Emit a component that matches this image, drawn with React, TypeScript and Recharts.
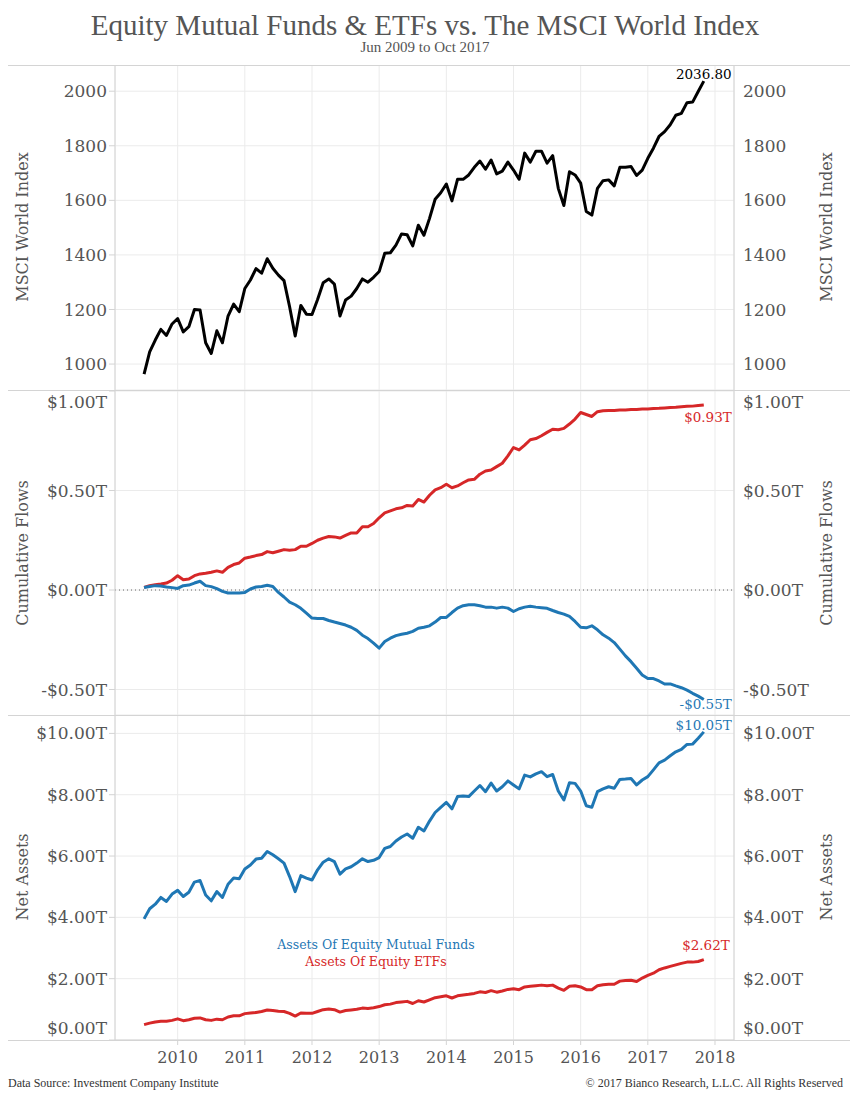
import React from "react";
import { LineChart, Line, XAxis, YAxis, CartesianGrid, ReferenceLine } from "recharts";

// monthly, Jun 2009 .. Oct 2017 (month-end)
const START_YEAR = 2009;
const START_MONTH = 6;

const msci = [
  963, 1045, 1088, 1127, 1105, 1147, 1167, 1118, 1137, 1200,
  1198, 1078, 1039, 1122, 1078, 1176, 1220, 1192, 1277, 1308,
  1350, 1333, 1386, 1351, 1326, 1306, 1210, 1103, 1215, 1183,
  1182, 1237, 1298, 1312, 1293, 1176, 1235, 1249, 1277, 1312,
  1300, 1318, 1339, 1406, 1408, 1436, 1477, 1474, 1433, 1509,
  1472, 1534, 1604, 1628, 1660, 1598, 1677, 1677, 1693, 1721,
  1744, 1714, 1748, 1697, 1707, 1740, 1711, 1677, 1773, 1740,
  1780, 1780, 1736, 1764, 1644, 1581, 1705, 1693, 1663, 1559,
  1546, 1644, 1672, 1675, 1653, 1721, 1721, 1724, 1691, 1711,
  1754, 1791, 1834, 1852, 1877, 1912, 1919, 1958, 1960, 1999,
  2036.8,
];

const etfFlows = [
  0.013, 0.022, 0.027, 0.03, 0.035, 0.049, 0.072, 0.052, 0.055, 0.072,
  0.081, 0.084, 0.089, 0.096, 0.089, 0.114, 0.128, 0.136, 0.16, 0.166,
  0.173, 0.178, 0.193, 0.187, 0.195, 0.203, 0.2, 0.203, 0.22, 0.22,
  0.234, 0.25, 0.261, 0.269, 0.267, 0.261, 0.274, 0.287, 0.287, 0.318,
  0.318, 0.334, 0.363, 0.388, 0.398, 0.408, 0.413, 0.425, 0.422, 0.455,
  0.442, 0.476, 0.503, 0.514, 0.531, 0.514, 0.523, 0.539, 0.553, 0.556,
  0.582, 0.598, 0.603, 0.62, 0.637, 0.674, 0.716, 0.704, 0.728, 0.755,
  0.761, 0.775, 0.792, 0.808, 0.805, 0.812, 0.834, 0.859, 0.892, 0.882,
  0.872, 0.896, 0.901, 0.902, 0.902, 0.904, 0.905, 0.907, 0.907, 0.909,
  0.91, 0.912, 0.913, 0.915, 0.917, 0.918, 0.921, 0.923, 0.924, 0.927,
  0.93,
];

const mfFlows = [
  0.013, 0.018, 0.022, 0.02, 0.015, 0.012, 0.008, 0.022, 0.025, 0.035,
  0.044, 0.022, 0.017, 0.007, -0.007, -0.015, -0.015, -0.015, -0.012, 0.005,
  0.015, 0.018, 0.024, 0.018, -0.012, -0.035, -0.061, -0.074, -0.092, -0.116,
  -0.141, -0.143, -0.143, -0.153, -0.161, -0.168, -0.176, -0.187, -0.203, -0.227,
  -0.244, -0.267, -0.292, -0.259, -0.242, -0.229, -0.222, -0.217, -0.208, -0.192,
  -0.187, -0.18, -0.161, -0.138, -0.138, -0.113, -0.091, -0.079, -0.074, -0.074,
  -0.079, -0.086, -0.086, -0.091, -0.086, -0.091, -0.108, -0.094, -0.086, -0.082,
  -0.086, -0.089, -0.092, -0.103, -0.113, -0.121, -0.133, -0.158, -0.187, -0.19,
  -0.18, -0.2, -0.225, -0.242, -0.264, -0.297, -0.331, -0.36, -0.393, -0.427,
  -0.445, -0.445, -0.457, -0.472, -0.472, -0.482, -0.491, -0.503, -0.519, -0.533,
  -0.55,
];

const mfAssets = [
  3.95, 4.28, 4.43, 4.65, 4.52, 4.76, 4.88, 4.68, 4.82, 5.15,
  5.2, 4.73, 4.54, 4.84, 4.65, 5.08, 5.28, 5.26, 5.58, 5.71,
  5.9, 5.93, 6.15, 6.04, 5.91, 5.77, 5.33, 4.84, 5.36, 5.28,
  5.22, 5.55, 5.8, 5.91, 5.82, 5.41, 5.58, 5.65, 5.77, 5.91,
  5.82, 5.86, 5.95, 6.25, 6.31, 6.49, 6.62, 6.72, 6.58, 6.94,
  6.82, 7.14, 7.42, 7.59, 7.75, 7.54, 7.94, 7.96, 7.94, 8.12,
  8.3, 8.1, 8.38, 8.12, 8.26, 8.45, 8.32, 8.19, 8.64, 8.58,
  8.68, 8.75, 8.59, 8.66, 8.12, 7.83, 8.39, 8.37, 8.12, 7.64,
  7.59, 8.1, 8.19, 8.26, 8.21, 8.5, 8.51, 8.53, 8.32, 8.48,
  8.59, 8.81, 9.04, 9.13, 9.27, 9.4, 9.48, 9.64, 9.65, 9.84,
  10.05,
];

const etfAssets = [
  0.5, 0.55, 0.59, 0.61, 0.61, 0.64, 0.69, 0.63, 0.66, 0.71,
  0.72, 0.66, 0.64, 0.68, 0.66, 0.75, 0.79, 0.79, 0.86, 0.88,
  0.9, 0.93, 0.98, 0.96, 0.94, 0.93, 0.87, 0.78, 0.88, 0.87,
  0.87, 0.93, 0.99, 1.01, 0.99, 0.91, 0.96, 0.98, 1.0, 1.04,
  1.03, 1.05, 1.09, 1.15, 1.17, 1.22, 1.24, 1.26, 1.19, 1.28,
  1.24, 1.31, 1.38, 1.41, 1.44, 1.37, 1.44, 1.47, 1.49, 1.52,
  1.57, 1.55, 1.61, 1.56, 1.6, 1.65, 1.67, 1.64, 1.73, 1.75,
  1.77, 1.79, 1.77, 1.79, 1.69, 1.62, 1.75, 1.77, 1.73, 1.64,
  1.64, 1.77, 1.8, 1.82, 1.82, 1.92, 1.94, 1.95, 1.91, 2.02,
  2.11, 2.18, 2.29, 2.35, 2.4, 2.45, 2.5, 2.54, 2.54, 2.56,
  2.62,
];

const yearTicks = [2010, 2011, 2012, 2013, 2014, 2015, 2016, 2017, 2018];
const msciTicks = [1000, 1200, 1400, 1600, 1800, 2000];
const flowTicks = [-0.5, 0, 0.5, 1];
const assetTicks = [0, 2, 4, 6, 8, 10];

const data = msci.map((v, i) => ({
  t: START_YEAR + (START_MONTH + i) / 12,
  msci: v,
  etfFlows: etfFlows[i],
  mfFlows: mfFlows[i],
  mfAssets: mfAssets[i],
  etfAssets: etfAssets[i],
}));
const LAST = data.length - 1;

const SERIF = "'DejaVu Serif', serif";
const TITLE_FONT = "'Liberation Serif', serif";
const BLUE = "#1f77b4";
const RED = "#d62728";
const GRID = "#ebebeb";
const BORDER = "#d4d4d4";
const TEXT = "#555";

const X_DOMAIN: [number, number] = [2009.067, 2018.283];

const money = (v: number) => (v < 0 ? "-$" : "$") + Math.abs(v).toFixed(2) + "T";
const plain = (v: number) => String(v);

// keep labels at the panel edges inside the panel, like tableau does
const makeTick = (plotH: number, fmt: (v: number) => string) => (props: any) => {
  const { x, y, payload, textAnchor } = props;
  let ty = y;
  if (y < 8) ty = 11;
  else if (plotH - y < 8) ty = plotH - 12;
  return (
    <text x={x} y={ty} dy="0.355em" textAnchor={textAnchor} fill={TEXT} fontSize={17} fontFamily={SERIF}>
      {fmt(payload.value)}
    </text>
  );
};

const endLabel =
  (fmt: (v: number) => string, color: string, dx: number, dy: number, anchor: string) => (props: any) => {
    if (props.index !== LAST) return <g />;
    return (
      <text
        x={props.x + dx}
        y={props.y + dy}
        dy="0.355em"
        textAnchor={anchor}
        fill={color}
        fontSize={13.5}
        fontFamily={SERIF}
      >
        {fmt(props.value)}
      </text>
    );
  };

const hLine = (top: number) => (
  <div style={{ position: "absolute", left: 8, top, width: 842, height: 1, background: BORDER }} />
);

const sideTitle = (text: string, cx: number, cy: number) => (
  <div
    style={{
      position: "absolute",
      left: cx,
      top: cy,
      transform: "translate(-50%, -50%) rotate(-90deg)",
      whiteSpace: "nowrap",
      fontFamily: SERIF,
      fontSize: 16,
      color: TEXT,
    }}
  >
    {text}
  </div>
);

const yAxes = (domain: [number, number], ticks: number[], plotH: number, fmt: (v: number) => string) => [
  <YAxis
    key="l"
    yAxisId="l"
    orientation="left"
    width={115}
    domain={domain}
    ticks={ticks}
    interval={0}
    allowDataOverflow
    axisLine={{ stroke: BORDER }}
    tickLine={{ stroke: BORDER }}
    tickSize={6}
    tickMargin={2}
    tick={makeTick(plotH, fmt)}
  />,
  <YAxis
    key="r"
    yAxisId="r"
    orientation="right"
    width={116}
    domain={domain}
    ticks={ticks}
    interval={0}
    allowDataOverflow
    axisLine={{ stroke: BORDER }}
    tickLine={false}
    tickSize={0}
    tickMargin={9}
    tick={makeTick(plotH, fmt)}
  />,
];

const MARGIN = { top: 0, right: 0, bottom: 0, left: 0 };

export default function App() {
  return (
    <div style={{ position: "absolute", left: 0, top: 0, width: 850, height: 1100, background: "#fff" }}>
      <div
        style={{
          position: "absolute",
          top: 8,
          width: 850,
          textAlign: "center",
          fontFamily: TITLE_FONT,
          fontSize: 29,
          color: TEXT,
          lineHeight: "34px",
        }}
      >
        Equity Mutual Funds &amp; ETFs vs. The MSCI World Index
      </div>
      <div
        style={{
          position: "absolute",
          top: 38,
          width: 850,
          textAlign: "center",
          fontFamily: TITLE_FONT,
          fontSize: 15,
          color: TEXT,
          lineHeight: "18px",
        }}
      >
        Jun 2009 to Oct 2017
      </div>

      {/* MSCI World */}
      <div style={{ position: "absolute", left: 0, top: 65 }}>
        <LineChart width={850} height={325} data={data} margin={MARGIN}>
          <XAxis dataKey="t" type="number" domain={X_DOMAIN} ticks={yearTicks} hide allowDataOverflow />
          {yAxes([905, 2096], msciTicks, 325, plain)}
          <CartesianGrid yAxisId="l" stroke={GRID} />
          <Line yAxisId="r" dataKey="msci" stroke="none" dot={false} isAnimationActive={false} />
          <Line
            yAxisId="l"
            dataKey="msci"
            stroke="#000"
            strokeWidth={3}
            strokeLinejoin="round"
            dot={false}
            isAnimationActive={false}
            label={endLabel((v) => v.toFixed(2), "#000", 0, -7, "middle")}
          />
        </LineChart>
      </div>

      {/* cumulative flows */}
      <div style={{ position: "absolute", left: 0, top: 391 }}>
        <LineChart width={850} height={324} data={data} margin={MARGIN}>
          <XAxis dataKey="t" type="number" domain={X_DOMAIN} ticks={yearTicks} hide allowDataOverflow />
          {yAxes([-0.628, 1.0], flowTicks, 324, money)}
          <CartesianGrid yAxisId="l" stroke={GRID} />
          <ReferenceLine yAxisId="l" y={0} stroke="#666" strokeDasharray="1 3" />
          <Line yAxisId="r" dataKey="etfFlows" stroke="none" dot={false} isAnimationActive={false} />
          <Line
            yAxisId="l"
            dataKey="etfFlows"
            stroke={RED}
            strokeWidth={3}
            strokeLinejoin="round"
            dot={false}
            isAnimationActive={false}
            label={endLabel(money, RED, 28, 12, "end")}
          />
          <Line
            yAxisId="l"
            dataKey="mfFlows"
            stroke={BLUE}
            strokeWidth={3}
            strokeLinejoin="round"
            dot={false}
            isAnimationActive={false}
            label={endLabel(money, BLUE, 28, 5, "end")}
          />
        </LineChart>
      </div>

      {/* net assets */}
      <div style={{ position: "absolute", left: 0, top: 715 }}>
        <LineChart width={850} height={355} data={data} margin={MARGIN}>
          <XAxis
            dataKey="t"
            type="number"
            domain={X_DOMAIN}
            ticks={yearTicks}
            interval={0}
            allowDataOverflow
            height={30}
            axisLine={{ stroke: BORDER }}
            tickLine={{ stroke: BORDER }}
            tickSize={5}
            tickMargin={7}
            tick={{ fill: TEXT, fontSize: 16, fontFamily: SERIF }}
          />
          {yAxes([0, 10.6], assetTicks, 325, money)}
          <CartesianGrid yAxisId="l" stroke={GRID} />
          <Line yAxisId="r" dataKey="mfAssets" stroke="none" dot={false} isAnimationActive={false} />
          <Line
            yAxisId="l"
            dataKey="etfAssets"
            stroke={RED}
            strokeWidth={3}
            strokeLinejoin="round"
            dot={false}
            isAnimationActive={false}
            label={endLabel(money, RED, 26, -14, "end")}
          />
          <Line
            yAxisId="l"
            dataKey="mfAssets"
            stroke={BLUE}
            strokeWidth={3}
            strokeLinejoin="round"
            dot={false}
            isAnimationActive={false}
            label={endLabel(money, BLUE, 28, -7, "end")}
          />
        </LineChart>
      </div>

      {hLine(65)}
      {hLine(390)}
      {hLine(715)}
      {hLine(1040)}

      {sideTitle("MSCI World Index", 22, 227)}
      {sideTitle("MSCI World Index", 826, 227)}
      {sideTitle("Cumulative Flows", 22, 553)}
      {sideTitle("Cumulative Flows", 826, 553)}
      {sideTitle("Net Assets", 22, 877)}
      {sideTitle("Net Assets", 826, 877)}

      <div
        style={{
          position: "absolute",
          left: 226,
          top: 936,
          width: 300,
          textAlign: "center",
          fontFamily: SERIF,
          fontSize: 12.5,
          lineHeight: "17px",
        }}
      >
        <div style={{ color: BLUE }}>Assets Of Equity Mutual Funds</div>
        <div style={{ color: RED }}>Assets Of Equity ETFs</div>
      </div>

      <div
        style={{
          position: "absolute",
          left: 8,
          top: 1076,
          fontFamily: TITLE_FONT,
          fontSize: 12,
          color: "#333",
        }}
      >
        Data Source: Investment Company Institute
      </div>
      <div
        style={{
          position: "absolute",
          right: 7,
          top: 1076,
          fontFamily: TITLE_FONT,
          fontSize: 12,
          color: "#333",
        }}
      >
        © 2017 Bianco Research, L.L.C. All Rights Reserved
      </div>
    </div>
  );
}
